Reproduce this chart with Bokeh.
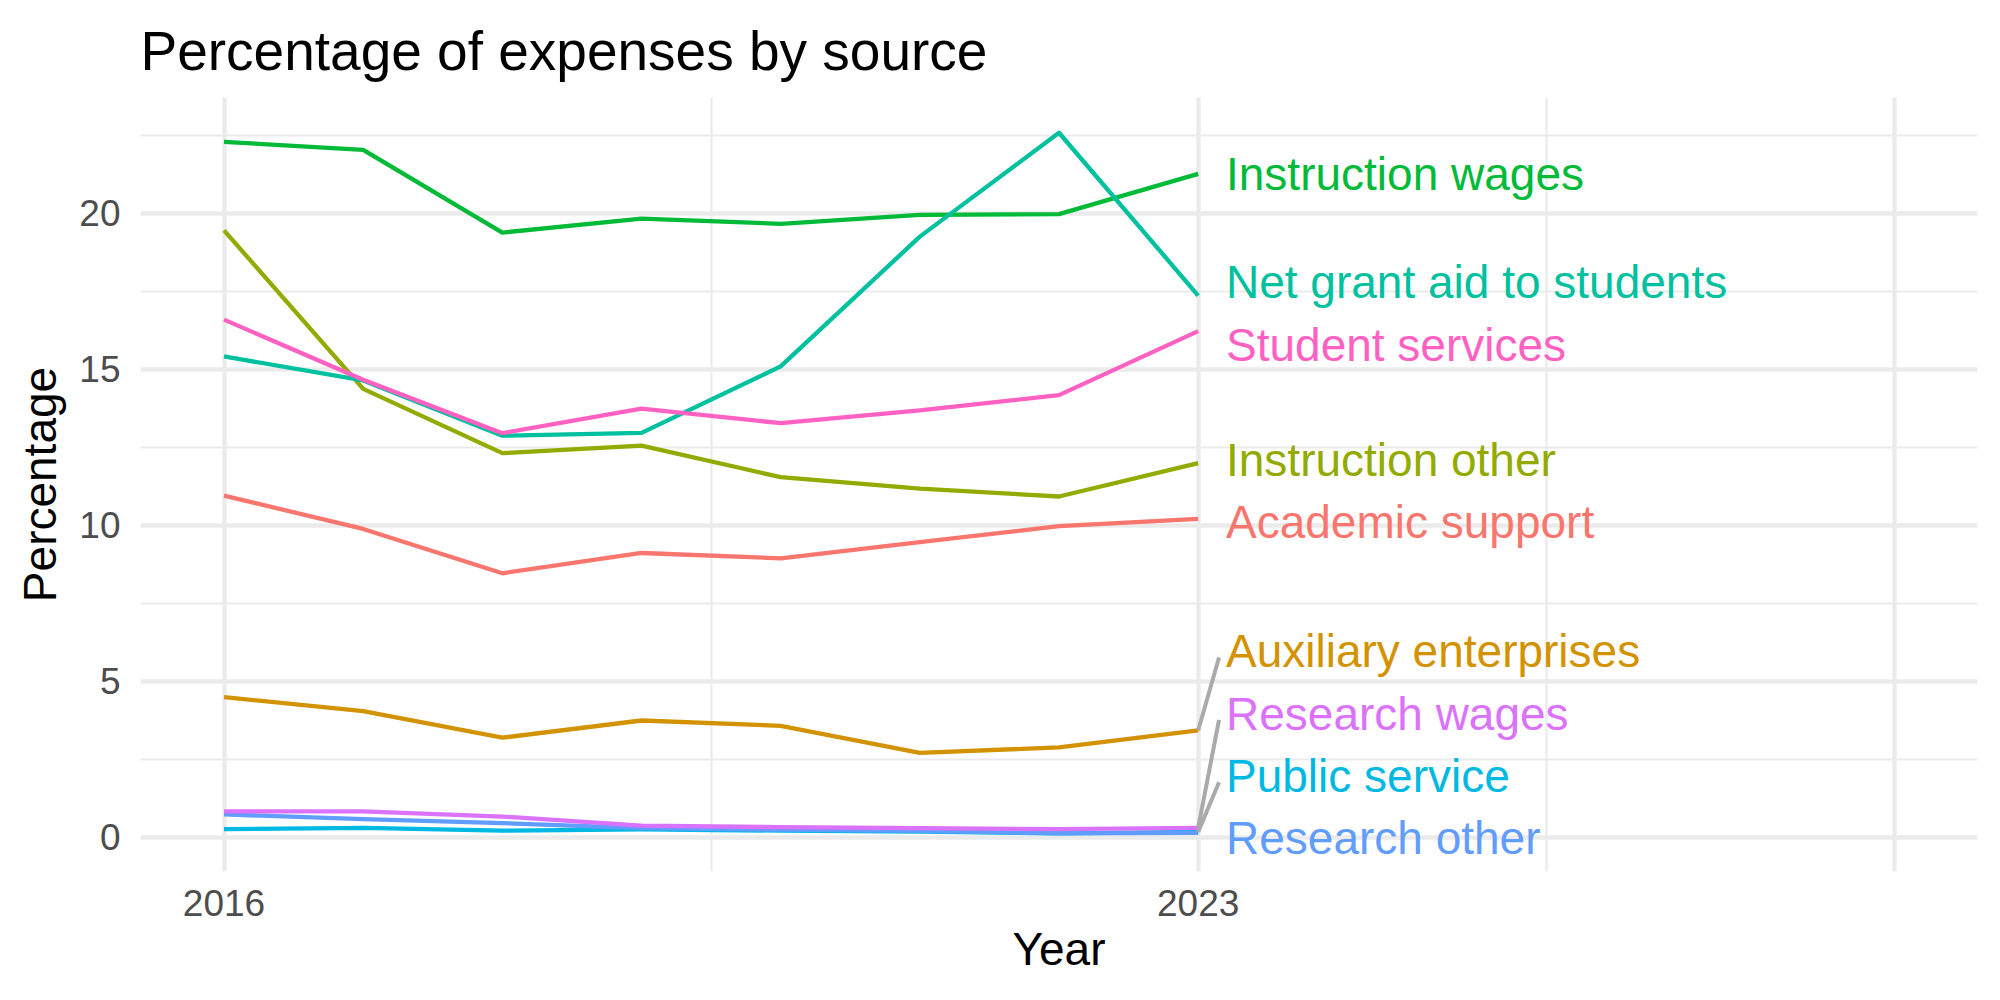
from bokeh.plotting import figure
from bokeh.models import Range1d, FixedTicker, ColumnDataSource
from bokeh.core.properties import value
from bokeh.embed import file_html
from bokeh.resources import INLINE

# ---------------- data ----------------
years = [2016, 2017, 2018, 2019, 2020, 2021, 2022, 2023]

academic_support = [10.95, 9.88, 8.46, 9.11, 8.94, 9.46, 9.97, 10.20]
auxiliary_enterprises = [4.49, 4.04, 3.19, 3.74, 3.57, 2.70, 2.88, 3.42]
instruction_other = [19.45, 14.37, 12.31, 12.55, 11.54, 11.17, 10.92, 11.99]
instruction_wages = [22.29, 22.03, 19.38, 19.83, 19.66, 19.95, 19.97, 21.26]
net_grant_aid = [15.41, 14.64, 12.87, 12.96, 15.09, 19.25, 22.58, 17.36]
public_service = [0.26, 0.30, 0.21, 0.25, 0.21, 0.18, 0.12, 0.17]
research_other = [0.73, 0.58, 0.45, 0.29, 0.24, 0.20, 0.12, 0.14]
research_wages = [0.83, 0.83, 0.66, 0.37, 0.32, 0.29, 0.26, 0.30]
student_services = [16.59, 14.66, 12.95, 13.74, 13.27, 13.68, 14.17, 16.22]

series_names = [
    "Academic support", "Auxiliary enterprises", "Instruction other",
    "Instruction wages", "Net grant aid to students", "Public service",
    "Research other", "Research wages", "Student services",
]
series_values = [
    academic_support, auxiliary_enterprises, instruction_other,
    instruction_wages, net_grant_aid, public_service,
    research_other, research_wages, student_services,
]
colors = ["#F8766D", "#D39200", "#93AA00", "#00BA38", "#00C19F",
          "#00B9E3", "#619CFF", "#DB72FB", "#FF61C3"]

x_ticks = [2016, 2023, 2028]
x_minor = [2019.5, 2025.5]
y_ticks = [0, 5, 10, 15, 20]
y_minor = [2.5, 7.5, 12.5, 17.5, 22.5]

TITLE = "Percentage of expenses by source"
FONT = "Liberation Sans"


# simple 1-D label repel (like ggrepel on the right end of lines)
def repel(vals, gap, lo):
    order = sorted(range(len(vals)), key=lambda i: vals[i])
    clusters = [[i] for i in order]

    def place(cl):
        m = sum(vals[i] for i in cl) / len(cl)
        start = m - gap * (len(cl) - 1) / 2.0
        return [start + gap * k for k in range(len(cl))]

    changed = True
    while changed:
        changed = False
        for c in range(len(clusters) - 1):
            a = place(clusters[c])
            b = place(clusters[c + 1])
            if b[0] - a[-1] < gap:
                clusters[c] = clusters[c] + clusters[c + 1]
                del clusters[c + 1]
                changed = True
                break
    out = [0.0] * len(vals)
    prev_top = None
    for cl in clusters:
        pos = place(cl)
        shift = 0.0
        if pos[0] < lo:
            shift = lo - pos[0]
        if prev_top is not None and pos[0] + shift < prev_top + gap:
            shift = prev_top + gap - pos[0]
        pos = [v + shift for v in pos]
        for i, v in zip(cl, pos):
            out[i] = v
        prev_top = pos[-1]
    return out


end_x = years[-1]
end_vals = [s[-1] for s in series_values]
x_lo, x_hi = 2015.4, 2028.6
y_lo, y_hi = -1.10, 23.71
label_y = repel(end_vals, 2.0, y_lo + 1.06)
label_x = end_x + 0.2

p = figure(width=2000, height=1000,
           x_range=Range1d(x_lo, x_hi), y_range=Range1d(y_lo, y_hi),
           output_backend="svg", toolbar_location=None,
           min_border_left=140, min_border_right=23,
           min_border_top=97, min_border_bottom=129,
           background_fill_color="white", border_fill_color="white",
           outline_line_color=None)

p.title.text = TITLE
p.title.text_font = FONT
p.title.text_font_size = "55px"
p.title.text_font_style = "normal"
p.title.text_color = "black"
p.title.align = "left"
p.title.standoff = 31

p.xaxis.ticker = FixedTicker(ticks=x_ticks, minor_ticks=x_minor)
p.xaxis.major_label_overrides = {2028: ""}
p.yaxis.ticker = FixedTicker(ticks=y_ticks, minor_ticks=y_minor)

for ax in (p.xaxis[0], p.yaxis[0]):
    ax.axis_line_color = None
    ax.major_tick_line_color = None
    ax.minor_tick_line_color = None
    ax.major_label_text_font = FONT
    ax.major_label_text_font_size = "37px"
    ax.major_label_text_color = "#4D4D4D"
    ax.axis_label_text_font = FONT
    ax.axis_label_text_font_size = "46px"
    ax.axis_label_text_font_style = "normal"
    ax.axis_label_text_color = "black"

p.xaxis.axis_label = "Year"
p.yaxis.axis_label = "Percentage"
p.xaxis.major_label_standoff = 12
p.xaxis.axis_label_standoff = 4

p.yaxis.major_tick_out = 0
p.yaxis.minor_tick_out = 0
p.yaxis.major_tick_in = 0
p.yaxis.minor_tick_in = 0
p.yaxis.major_label_standoff = 20
p.yaxis.axis_label_standoff = 10

p.grid.grid_line_color = "#EBEBEB"
p.grid.grid_line_width = 4.4
p.grid.minor_grid_line_color = "#EBEBEB"
p.grid.minor_grid_line_width = 2.2

# lines
for name, vals, col in zip(series_names, series_values, colors):
    p.line(years, vals, line_color=col, line_width=4.3, line_join="round")

# connector segments for displaced labels
seg_x0, seg_y0, seg_x1, seg_y1 = [], [], [], []
for ev, ly in zip(end_vals, label_y):
    if abs(ly - ev) > 1.0:
        seg_x0.append(end_x)
        seg_y0.append(ev)
        seg_x1.append(label_x - 0.05)
        seg_y1.append(ly - 0.2)
p.segment(seg_x0, seg_y0, seg_x1, seg_y1, line_color="#AAAAAA", line_width=4.0)

src = ColumnDataSource(dict(x=[label_x] * len(series_names), y=label_y,
                            text=series_names, color=colors))
p.text(x="x", y="y", text="text", text_color="color", source=src,
       text_font=value(FONT), text_font_size="46px",
       text_baseline="middle", text_align="left")

open("out.html", "w").write(file_html(p, INLINE))
